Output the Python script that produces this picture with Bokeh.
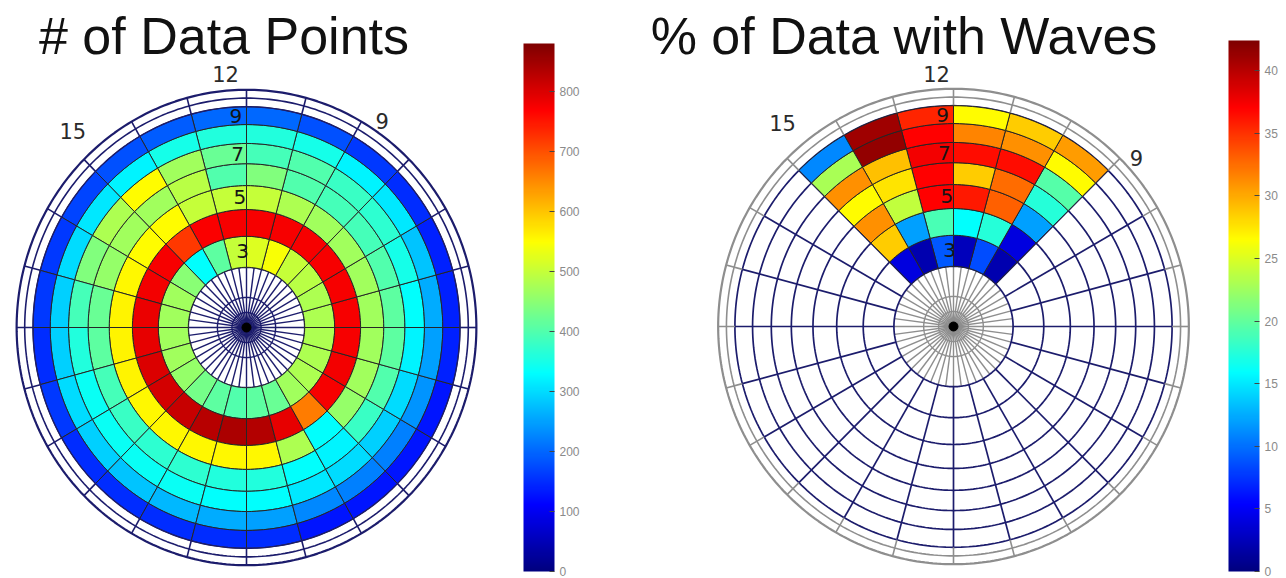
import numpy as np
from bokeh.plotting import figure
from bokeh.models import ColumnDataSource, LinearColorMapper, ColorBar, FixedTicker, Range1d
from bokeh.layouts import row
from bokeh.embed import file_html
from bokeh.resources import INLINE
from bokeh.core.properties import value

# ---------------- data ----------------
MLT_HOURS = list(range(24))          # sector start hour (MLT)
L_SHELLS = [3, 4, 5, 6, 7, 8, 9]     # ring centres

count_L3 = [410, 420, 470, 480, 480, 480, 480, 480, 490, 500, 545, 520, 500, 410, 330, 450, 470, 470, 470, 470, 460, 430, 410, 400]
count_L4 = [835, 790, 660, 775, 780, 775, 775, 775, 775, 775, 775, 775, 775, 770, 720, 775, 780, 785, 790, 800, 805, 815, 830, 840]
count_L5 = [555, 480, 330, 460, 470, 470, 470, 470, 470, 470, 480, 500, 500, 500, 550, 550, 555, 560, 560, 560, 555, 555, 555, 555]
count_L6 = [360, 330, 320, 380, 400, 410, 410, 400, 390, 390, 400, 440, 400, 490, 470, 470, 460, 420, 410, 390, 380, 370, 370, 360]
count_L7 = [330, 310, 300, 290, 300, 320, 330, 350, 370, 380, 400, 390, 420, 470, 550, 480, 440, 390, 360, 340, 340, 340, 340, 330]
count_L8 = [250, 230, 220, 220, 240, 250, 260, 280, 310, 320, 350, 360, 360, 350, 320, 310, 300, 290, 290, 300, 290, 280, 270, 260]
count_L9 = [150, 130, 130, 130, 130, 140, 140, 140, 150, 160, 180, 200, 200, 190, 180, 170, 160, 160, 150, 160, 150, 150, 150, 150]
COUNT_MAX = 880
COUNT_TICKS = [0, 100, 200, 300, 400, 500, 600, 700, 800]

WAVE_HOURS = [9, 10, 11, 12, 13, 14]
wave_L3 = [2.0, 8.5, 2.5, 9.0, 2.0, 4.0]
wave_L4 = [4.0, 17.5, 16.0, 19.0, 12.0, 28.5]
wave_L5 = [12.0, 33.0, 36.0, 37.0, 24.0, 31.0]
wave_L6 = [17.5, 32.5, 28.5, 37.0, 27.5, 26.5]
wave_L7 = [19.5, 36.5, 36.5, 37.5, 29.0, 31.0]
wave_L8 = [26.5, 31.0, 31.5, 37.0, 41.5, 23.0]
wave_L9 = [30.5, 28.5, 26.5, 35.5, 41.0, 11.0]
WAVE_MAX = 42.4
WAVE_TICKS = [0, 5, 10, 15, 20, 25, 30, 35, 40]

ANGLE_LABELS = ["12", "15", "9"]
ANGLE_LABEL_HOURS = [12, 15, 9]
RADIAL_LABELS = [3, 5, 7, 9]

TITLE_LEFT = "# of Data Points"
TITLE_RIGHT = "% of Data with Waves"

# ---------------- styling helpers ----------------
def jet_palette(n=256):
    out = []
    for t in np.linspace(0, 1, n):
        r = np.clip(1.5 - abs(4 * t - 3), 0, 1)
        g = np.clip(1.5 - abs(4 * t - 2), 0, 1)
        b = np.clip(1.5 - abs(4 * t - 1), 0, 1)
        out.append("#%02x%02x%02x" % (int(r * 255), int(g * 255), int(b * 255)))
    return out

JET = jet_palette()
NAVY = "#1c1c6c"
GRAY = "#8e8e8e"


def rho(L):
    # radial display scale (compressed outward, as in the original plot)
    return -109.0 + 107.0 * np.sqrt(L)


def ang(h):
    return np.deg2rad(90.0 + (np.asarray(h, dtype=float) - 12.0) * 15.0)


def cell_poly(h, L):
    a = np.linspace(ang(h), ang(h + 1), 10)
    r0, r1 = rho(L - 0.5), rho(L + 0.5)
    xs = np.concatenate([r1 * np.cos(a), r0 * np.cos(a[::-1])])
    ys = np.concatenate([r1 * np.sin(a), r0 * np.sin(a[::-1])])
    return list(xs), list(ys)


def circles(radii):
    t = np.linspace(0, 2 * np.pi, 361)
    return [list(r * np.cos(t)) for r in radii], [list(r * np.sin(t)) for r in radii]


def spokes(n, r0, r1):
    xs, ys = [], []
    for k in range(n):
        a = 2 * np.pi * k / n
        xs.append([r0 * np.cos(a), r1 * np.cos(a)])
        ys.append([r0 * np.sin(a), r1 * np.sin(a)])
    return xs, ys


def make_panel(title, hours, rings, vmax, ticks, cx, cy, sx, title_dx, cb_x, cb_top,
               colored_grid, lab_dx, lab_dy):
    W, H = 643, 578
    p = figure(width=W, height=H, x_range=Range1d(-cx / sx, (W - cx) / sx),
               y_range=Range1d(-(H - cy), cy), toolbar_location=None,
               output_backend="svg", min_border=0, x_axis_location=None,
               y_axis_location=None, title=None)
    p.grid.visible = False
    p.outline_line_color = None
    p.background_fill_color = "white"
    p.border_fill_color = "white"

    r_in = rho(2.5)
    inner_col = NAVY if colored_grid else GRAY
    outer_col = NAVY if colored_grid else GRAY

    # inner disk grid
    xs, ys = spokes(48, 0, r_in)
    p.multi_line(xs, ys, line_color=inner_col, line_width=1.4)
    xs, ys = circles([0.25 * r_in, 0.5 * r_in])
    p.multi_line(xs, ys, line_color=inner_col, line_width=1.4)

    if not colored_grid:
        xs, ys = spokes(24, r_in, rho(9.5))
        p.multi_line(xs, ys, line_color=NAVY, line_width=1.7)
        xs, ys = circles([rho(v) for v in np.arange(2.5, 9.6, 1.0)])
        p.multi_line(xs, ys, line_color=NAVY, line_width=1.7)
    else:
        xs, ys = circles([r_in])
        p.multi_line(xs, ys, line_color=NAVY, line_width=1.6)

    # outer band
    xs, ys = spokes(24, rho(9.5), rho(10.5))
    p.multi_line(xs, ys, line_color=outer_col, line_width=1.6)
    xs, ys = circles([rho(10.0)])
    p.multi_line(xs, ys, line_color=outer_col, line_width=1.6)
    xs, ys = circles([rho(10.5)])
    p.multi_line(xs, ys, line_color=outer_col, line_width=2.2)

    # colored cells
    cxs, cys, vals = [], [], []
    for L, vlist in zip(L_SHELLS, rings):
        for h, v in zip(hours, vlist):
            x, y = cell_poly(h, L)
            cxs.append(x)
            cys.append(y)
            vals.append(v)
    mapper = LinearColorMapper(palette=JET, low=0, high=vmax)
    src = ColumnDataSource(dict(xs=cxs, ys=cys, val=vals))
    p.patches("xs", "ys", source=src, fill_color={"field": "val", "transform": mapper},
              line_color="#262626", line_width=1.0)
    if colored_grid:
        xs, ys = circles([rho(9.5)])
        p.multi_line(xs, ys, line_color=NAVY, line_width=1.4)

    # centre dot
    p.scatter([0], [0], size=9, color="black")

    # angular labels
    la = ang(ANGLE_LABEL_HOURS)
    lr = 257.0
    p.text(x=list(lr * np.cos(la)), y=list(lr * np.sin(la)), text=ANGLE_LABELS,
           text_font=value("DejaVu Sans"), text_font_size=value("21px"),
           text_color="#2a2a2a", text_align="center", text_baseline="middle",
           x_offset=lab_dx, y_offset=lab_dy)

    # radial labels
    ra = np.deg2rad(93.0)
    rr = rho(np.array(RADIAL_LABELS, dtype=float))
    p.text(x=list(rr * np.cos(ra)), y=list(rr * np.sin(ra)), text=[str(v) for v in RADIAL_LABELS],
           text_font=value("DejaVu Sans"), text_font_size=value("20px"),
           text_color="#151515", text_align="center", text_baseline="middle")

    # title
    p.text(x=[title_dx / sx], y=[cy - 35], text=[title], text_font=value("Liberation Sans"),
           text_font_size=value("52px"), text_color="#111111", text_align="center",
           text_baseline="middle")

    cb_bottom = 571
    cb = ColorBar(color_mapper=mapper, ticker=FixedTicker(ticks=ticks), width=31,
                  height=cb_bottom - cb_top, location=(cb_x, H - cb_bottom), padding=0, margin=0,
                  label_standoff=5, major_label_text_font_size="12px",
                  major_label_text_color="#8a8a8a", major_label_text_font="Liberation Sans",
                  major_tick_line_color="#444444", major_tick_in=5, major_tick_out=0,
                  minor_tick_line_color=None, bar_line_color=None, border_line_color=None,
                  background_fill_color=None)
    p.add_layout(cb)
    return p


left = make_panel(TITLE_LEFT, MLT_HOURS,
                  [count_L3, count_L4, count_L5, count_L6, count_L7, count_L8, count_L9],
                  COUNT_MAX, COUNT_TICKS, cx=246, cy=327, sx=0.967, title_dx=-22.5,
                  cb_x=523, cb_top=43, colored_grid=True,
                  lab_dx=[-21, 2, -40], lab_dy=[3, -15, -25])
right = make_panel(TITLE_RIGHT, WAVE_HOURS,
                   [wave_L3, wave_L4, wave_L5, wave_L6, wave_L7, wave_L8, wave_L9],
                   WAVE_MAX, WAVE_TICKS, cx=310, cy=326, sx=0.99, title_dx=-49.5,
                   cb_x=585, cb_top=40, colored_grid=False,
                   lab_dx=[-17, 9, 3], lab_dy=[4, -22, 13])

layout = row(left, right, spacing=0)
open("out.html", "w").write(file_html(layout, INLINE))
